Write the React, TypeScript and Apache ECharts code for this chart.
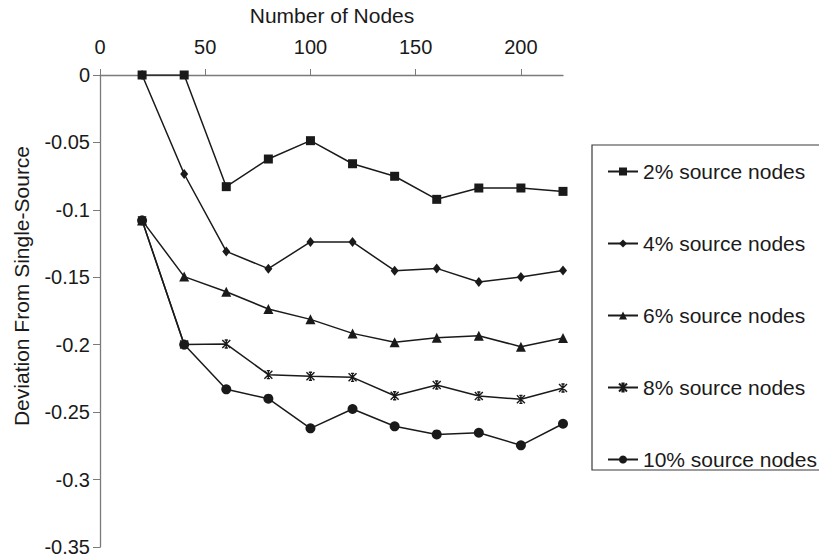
import React, { useEffect, useRef } from "react";
import * as echarts from "echarts";

const nodes = [20, 40, 60, 80, 100, 120, 140, 160, 180, 200, 220];
const seriesNames = [
  "2% source nodes",
  "4% source nodes",
  "6% source nodes",
  "8% source nodes",
  "10% source nodes",
];
const s2 = [0, 0, -0.0828, -0.0623, -0.0487, -0.0658, -0.0751, -0.0922, -0.0838, -0.0838, -0.0863];
const s4 = [0, -0.0734, -0.1308, -0.1436, -0.1238, -0.1238, -0.1451, -0.1434, -0.1535, -0.1498, -0.1449];
const s6 = [-0.1078, -0.1495, -0.1607, -0.1735, -0.1812, -0.1916, -0.1982, -0.1948, -0.1933, -0.2015, -0.195];
const s8 = [-0.1078, -0.1999, -0.1995, -0.2222, -0.2234, -0.2242, -0.2378, -0.2299, -0.238, -0.2405, -0.2321];
const s10 = [-0.1078, -0.1999, -0.2331, -0.24, -0.262, -0.2477, -0.2605, -0.2665, -0.2653, -0.2746, -0.2586];
const xTicks = [0, 50, 100, 150, 200];

const FONT = "'Liberation Sans', Arial, Helvetica, sans-serif";
const INK = "#1a1a1a";
const AXIS = "#7a7a7a";

const asterisk =
  "path://M0,0 L10,10 M10,0 L0,10 M5,0 L5,10 M3,0 L7,0 M3,10 L7,10";

export default function App() {
  const ref = useRef<HTMLDivElement>(null);
  useEffect(() => {
    if (!ref.current) return;
    const chart = echarts.init(ref.current, null, { renderer: "svg" });
    const allData = [s2, s4, s6, s8, s10];
    const symbols = ["rect", "diamond", "triangle", asterisk, "circle"];
    const sizes: any[] = [9, [8, 10], 10, 8, 10];
    const series = allData.map((vals, i) => ({
      name: seriesNames[i],
      type: "line",
      data: nodes.map((n, j) => [n, vals[j]]),
      symbol: symbols[i],
      symbolSize: sizes[i],
      showAllSymbol: true,
      lineStyle: { color: INK, width: 1.5 },
      itemStyle:
        i === 3
          ? { color: "rgba(0,0,0,0)", borderColor: INK, borderWidth: 1.4 }
          : { color: INK, borderWidth: 0 },
      emphasis: { disabled: true },
      z: 2 + i,
    }));
    chart.setOption({
      animation: false,
      textStyle: { fontFamily: FONT },
      grid: { left: 100, top: 75, right: 256, bottom: 10, containLabel: false },
      xAxis: {
        type: "value",
        position: "top",
        min: 0,
        max: 220,
        interval: 50,
        axisLine: { onZero: false, lineStyle: { color: AXIS, width: 1.3 } },
        axisTick: { show: true, length: 6, lineStyle: { color: AXIS }, customValues: xTicks },
        axisLabel: {
          customValues: xTicks,
          fontSize: 20,
          color: INK,
          fontFamily: FONT,
          margin: 18,
        },
        splitLine: { show: false },
      },
      yAxis: {
        type: "value",
        min: -0.35,
        max: 0,
        interval: 0.05,
        axisLine: { show: true, onZero: false, lineStyle: { color: AXIS, width: 1.3 } },
        axisTick: { show: true, length: 7, lineStyle: { color: AXIS } },
        axisLabel: {
          fontSize: 20,
          color: INK,
          fontFamily: FONT,
          margin: 10,
          formatter: (v: number) => String(Math.round(v * 100) / 100),
        },
        splitLine: { show: false },
      },
      legend: {
        orient: "vertical",
        left: 592,
        top: 145,
        padding: [16, 3, 0, 15],
        itemGap: 51,
        itemWidth: 30,
        itemHeight: 10,
        itemTextGap: 3,
        borderColor: "#3a3a3a",
        borderWidth: 1.2,
        textStyle: { fontSize: 21, color: INK, fontFamily: FONT },
        data: seriesNames,
      },
      graphic: [
        {
          type: "text",
          x: 332,
          y: 15,
          style: {
            text: "Number of Nodes",
            fontSize: 21,
            fontFamily: FONT,
            fill: INK,
            textAlign: "center",
            textVerticalAlign: "middle",
          },
        },
        {
          type: "text",
          x: 21,
          y: 286,
          rotation: Math.PI / 2,
          style: {
            text: "Deviation From Single-Source",
            fontSize: 21,
            fontFamily: FONT,
            fill: INK,
            textAlign: "center",
            textVerticalAlign: "middle",
          },
        },
      ],
      series,
    });
    return () => chart.dispose();
  }, []);
  return (
    <div
      ref={ref}
      style={{ position: "absolute", left: 0, top: 0, width: 819, height: 557, background: "#fff" }}
    />
  );
}
